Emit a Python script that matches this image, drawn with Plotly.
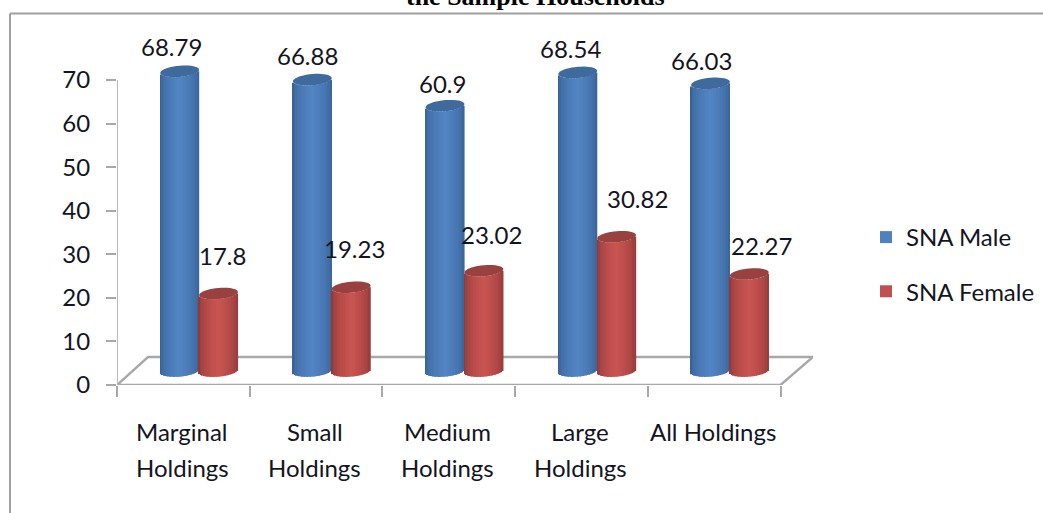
import math
import plotly.graph_objects as go

categories = ["Marginal<br>Holdings", "Small<br>Holdings", "Medium<br>Holdings", "Large<br>Holdings", "All Holdings"]
sna_male = [68.79, 66.88, 60.9, 68.54, 66.03]
sna_female = [17.8, 19.23, 23.02, 30.82, 22.27]
y_ticks = [0, 10, 20, 30, 40, 50, 60, 70]
series_names = ["SNA Male", "SNA Female"]
title_text = "the Sample Households"

# --- layout geometry (pixels of the 1043x513 page) ---
W, H = 1043, 513
L, R, T, B = 117, 813, 20, 385
CAT_PX = 132.7
UNIT_PX = 305 / 70
xmax = (R - L) / CAT_PX
ymax = (B - T) / UNIT_PX
FONT = "Lato"
TXT = "#14141e"
GREY = "#a8a8a8"

FLOOR = 3.2      # where the cylinders stand, in value units
HALF = 0.146     # half a cylinder width, in category units
CAP_B = 5.6 / UNIT_PX
TILT = 1.6 / UNIT_PX
STRIPS = 26


def mix(c1, c2, t):
    return "rgb(%d,%d,%d)" % tuple(round(a + (b - a) * t) for a, b in zip(c1, c2))


def cylinder(fig, values, offset, edge, centre):
    for k in range(STRIPS):
        u = -1 + (2 * k + 1) / STRIPS
        curve = -CAP_B * math.sqrt(max(0, 1 - u * u)) + TILT * u
        t = max(0, 1 - abs(u - 0.02)) ** 0.45
        fig.add_trace(go.Bar(
            x=[i + offset + HALF * u for i in range(len(values))],
            y=values,
            base=[FLOOR + curve] * len(values),
            width=2 * HALF / STRIPS * 1.25,
            marker=dict(color=mix(edge, centre, t), line=dict(width=0)),
            showlegend=False, hoverinfo="skip",
        ))


def cap_path(cx, cy):
    pts = []
    for j in range(40):
        a = 2 * math.pi * j / 40
        pts.append((cx + HALF * math.cos(a), cy + CAP_B * math.sin(a) + TILT * math.cos(a)))
    return "M" + "L".join(f"{x:.4f},{y:.4f}" for x, y in pts) + "Z"


fig = go.Figure()
cylinder(fig, sna_male, 0.472, (52, 92, 142), (82, 133, 196))
cylinder(fig, sna_female, 0.765, (134, 54, 52), (202, 84, 81))

# legend entries
for name, col in zip(series_names, ["#4f81bd", "#c0504d"]):
    fig.add_trace(go.Scatter(x=[None], y=[None], mode="markers", name=name, legendgroup=name,
                             marker=dict(symbol="square", size=15, color=col)))

line = dict(color=GREY, width=2.4)
shapes = [
    dict(type="line", xref="paper", yref="paper", layer="below",
         x0=(10 - L) / (R - L), x1=(1043 - L) / (R - L), y0=(B - 13.5) / (B - T), y1=(B - 13.5) / (B - T),
         line=dict(color="#a0a0a0", width=2)),
    dict(type="line", xref="paper", yref="paper", layer="below",
         x0=(10 - L) / (R - L), x1=(10 - L) / (R - L), y0=(B - 13.5) / (B - T), y1=(B - 513) / (B - T),
         line=dict(color="#a0a0a0", width=2)),
    dict(type="line", x0=0, x1=0, y0=0, y1=y_ticks[-1], layer="below", line=dict(color=GREY, width=1.6)),
    dict(type="path", layer="below", line=line,
         path=f"M0,0L{31 / CAT_PX:.4f},{28 / UNIT_PX:.4f}L{xmax:.4f},{28 / UNIT_PX:.4f}L{len(categories)},0Z"),
]
for i, (m, f) in enumerate(zip(sna_male, sna_female)):
    shapes.append(dict(type="path", layer="above", line=dict(width=0), fillcolor="#3f6a9e",
                       path=cap_path(i + 0.472, FLOOR + m)))
    shapes.append(dict(type="path", layer="above", line=dict(width=0), fillcolor="#98413f",
                       path=cap_path(i + 0.765, FLOOR + f)))

annotations = []
male_shift = [(-8, 25), (-5, 24), (-3, 22), (-7, 24), (-9, 23)]
female_shift = [(4, 38), (3, 39), (8, 36), (21, 38), (12, 29)]
for i in range(len(categories)):
    for vals, off, shift in ((sna_male, 0.472, male_shift), (sna_female, 0.765, female_shift)):
        annotations.append(dict(x=i + off, y=FLOOR + vals[i], text=str(vals[i]), showarrow=False,
                                xshift=shift[i][0], yshift=shift[i][1],
                                font=dict(family=FONT, size=24, color=TXT)))
    for n, part in enumerate(categories[i].split("<br>")):
        annotations.append(dict(x=i + 0.5 - 0.01, xanchor="center", yref="paper", y=0, yanchor="middle",
                                yshift=-(46 + 36 * n), text=part, showarrow=False,
                                font=dict(family=FONT, size=24, color=TXT)))
annotations.append(dict(xref="paper", yref="paper", x=(535 - L) / (R - L), y=(B + 4) / (B - T),
                        text=f"<b>{title_text}</b>", showarrow=False, yanchor="middle",
                        font=dict(family="Liberation Serif", size=26, color="#000000")))

fig.update_layout(
    width=W, height=H, margin=dict(l=L, r=W - R, t=T, b=H - B, pad=0, autoexpand=False),
    paper_bgcolor="white", plot_bgcolor="rgba(0,0,0,0)",
    barmode="overlay", shapes=shapes, annotations=annotations,
    showlegend=True,
    legend=dict(x=1 + 53 / (R - L), xref="paper", y=(B - 215) / (B - T), yanchor="top", xanchor="left",
                itemsizing="constant", itemwidth=30, tracegroupgap=20, borderwidth=0, bgcolor="rgba(0,0,0,0)",
                font=dict(family=FONT, size=24, color=TXT)),
    xaxis=dict(range=[0, xmax], showgrid=False, zeroline=False, showline=False,
               tickmode="array", tickvals=list(range(len(categories) + 1)), ticktext=[""] * (len(categories) + 1),
               ticks="outside", ticklen=11, tickwidth=1.6, tickcolor=GREY),
    yaxis=dict(range=[0, ymax], showgrid=False, zeroline=False, showline=False,
               tickmode="array", tickvals=y_ticks, ticks="outside", ticklen=10, tickwidth=1.6, tickcolor=GREY,
               tickfont=dict(family=FONT, size=24, color=TXT), ticklabelstandoff=11),
)

fig.write_html("out.html", config={"displayModeBar": False},
               post_script="document.body.style.margin='0';document.body.style.overflow='hidden';")
